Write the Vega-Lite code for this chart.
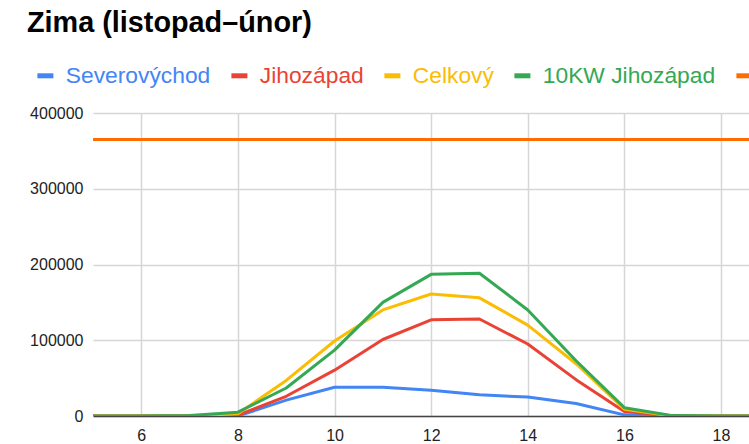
{
  "$schema": "https://vega.github.io/schema/vega-lite/v6.json",
  "autosize": {"type": "none"},
  "padding": {"left": 93, "top": 113, "right": 0, "bottom": 28},
  "width": 656,
  "height": 303,
  "title": {
    "text": "Zima (listopad–únor)",
    "anchor": "start",
    "frame": "group",
    "fontSize": 28.8,
    "fontWeight": "bold",
    "color": "#000000",
    "font": "Liberation Sans",
    "dx": -66,
    "offset": 26
  },
  "data": {
    "values": [
      {"hour": 5, "series": "Severovýchod", "value": 0},
      {"hour": 6, "series": "Severovýchod", "value": 0},
      {"hour": 7, "series": "Severovýchod", "value": 0},
      {"hour": 8, "series": "Severovýchod", "value": 0},
      {"hour": 9, "series": "Severovýchod", "value": 21000},
      {"hour": 10, "series": "Severovýchod", "value": 38000},
      {"hour": 11, "series": "Severovýchod", "value": 38000},
      {"hour": 12, "series": "Severovýchod", "value": 34000},
      {"hour": 13, "series": "Severovýchod", "value": 28000},
      {"hour": 14, "series": "Severovýchod", "value": 25000},
      {"hour": 15, "series": "Severovýchod", "value": 16500},
      {"hour": 16, "series": "Severovýchod", "value": 1500},
      {"hour": 17, "series": "Severovýchod", "value": 0},
      {"hour": 18, "series": "Severovýchod", "value": 0},
      {"hour": 19, "series": "Severovýchod", "value": 0},
      {"hour": 5, "series": "Jihozápad", "value": 0},
      {"hour": 6, "series": "Jihozápad", "value": 0},
      {"hour": 7, "series": "Jihozápad", "value": 0},
      {"hour": 8, "series": "Jihozápad", "value": 1000},
      {"hour": 9, "series": "Jihozápad", "value": 26000},
      {"hour": 10, "series": "Jihozápad", "value": 60500},
      {"hour": 11, "series": "Jihozápad", "value": 101000},
      {"hour": 12, "series": "Jihozápad", "value": 127000},
      {"hour": 13, "series": "Jihozápad", "value": 128000},
      {"hour": 14, "series": "Jihozápad", "value": 95000},
      {"hour": 15, "series": "Jihozápad", "value": 48000},
      {"hour": 16, "series": "Jihozápad", "value": 6000},
      {"hour": 17, "series": "Jihozápad", "value": 0},
      {"hour": 18, "series": "Jihozápad", "value": 0},
      {"hour": 19, "series": "Jihozápad", "value": 0},
      {"hour": 5, "series": "Celkový", "value": 0},
      {"hour": 6, "series": "Celkový", "value": 0},
      {"hour": 7, "series": "Celkový", "value": 0},
      {"hour": 8, "series": "Celkový", "value": 3000},
      {"hour": 9, "series": "Celkový", "value": 47000},
      {"hour": 10, "series": "Celkový", "value": 99000},
      {"hour": 11, "series": "Celkový", "value": 140000},
      {"hour": 12, "series": "Celkový", "value": 161000},
      {"hour": 13, "series": "Celkový", "value": 156000},
      {"hour": 14, "series": "Celkový", "value": 120000},
      {"hour": 15, "series": "Celkový", "value": 69000},
      {"hour": 16, "series": "Celkový", "value": 9000},
      {"hour": 17, "series": "Celkový", "value": 0},
      {"hour": 18, "series": "Celkový", "value": 0},
      {"hour": 19, "series": "Celkový", "value": 0},
      {"hour": 5, "series": "10KW Jihozápad", "value": 0},
      {"hour": 6, "series": "10KW Jihozápad", "value": 0},
      {"hour": 7, "series": "10KW Jihozápad", "value": 500},
      {"hour": 8, "series": "10KW Jihozápad", "value": 5000},
      {"hour": 9, "series": "10KW Jihozápad", "value": 37000},
      {"hour": 10, "series": "10KW Jihozápad", "value": 87000},
      {"hour": 11, "series": "10KW Jihozápad", "value": 150000},
      {"hour": 12, "series": "10KW Jihozápad", "value": 187000},
      {"hour": 13, "series": "10KW Jihozápad", "value": 188500},
      {"hour": 14, "series": "10KW Jihozápad", "value": 140000},
      {"hour": 15, "series": "10KW Jihozápad", "value": 73000},
      {"hour": 16, "series": "10KW Jihozápad", "value": 11000},
      {"hour": 17, "series": "10KW Jihozápad", "value": 500},
      {"hour": 18, "series": "10KW Jihozápad", "value": 0},
      {"hour": 19, "series": "10KW Jihozápad", "value": 0},
      {"hour": 5, "series": "Spotřeba", "value": 365000},
      {"hour": 6, "series": "Spotřeba", "value": 365000},
      {"hour": 7, "series": "Spotřeba", "value": 365000},
      {"hour": 8, "series": "Spotřeba", "value": 365000},
      {"hour": 9, "series": "Spotřeba", "value": 365000},
      {"hour": 10, "series": "Spotřeba", "value": 365000},
      {"hour": 11, "series": "Spotřeba", "value": 365000},
      {"hour": 12, "series": "Spotřeba", "value": 365000},
      {"hour": 13, "series": "Spotřeba", "value": 365000},
      {"hour": 14, "series": "Spotřeba", "value": 365000},
      {"hour": 15, "series": "Spotřeba", "value": 365000},
      {"hour": 16, "series": "Spotřeba", "value": 365000},
      {"hour": 17, "series": "Spotřeba", "value": 365000},
      {"hour": 18, "series": "Spotřeba", "value": 365000},
      {"hour": 19, "series": "Spotřeba", "value": 365000}
    ]
  },
  "mark": {"type": "line", "strokeWidth": 3, "clip": true, "strokeJoin": "round", "strokeCap": "butt"},
  "encoding": {
    "x": {
      "field": "hour",
      "type": "quantitative",
      "scale": {"domain": [5, 18.58], "nice": false, "zero": false},
      "axis": {
        "title": null,
        "values": [6, 8, 10, 12, 14, 16, 18],
        "grid": true,
        "gridColor": "#d6d6d6",
        "gridWidth": 1.5,
        "ticks": false,
        "domain": true,
        "domainColor": "#444444",
        "domainWidth": 1.5,
        "labelFontSize": 16,
        "labelColor": "#222222",
        "labelFont": "Liberation Sans",
        "labelPadding": 11
      }
    },
    "y": {
      "field": "value",
      "type": "quantitative",
      "scale": {"domain": [0, 400000], "nice": false},
      "axis": {
        "title": null,
        "values": [0, 100000, 200000, 300000, 400000],
        "format": "d",
        "grid": true,
        "gridColor": "#d6d6d6",
        "gridWidth": 1.5,
        "ticks": false,
        "domain": false,
        "labelFontSize": 16,
        "labelColor": "#222222",
        "labelFont": "Liberation Sans",
        "labelPadding": 10
      }
    },
    "color": {
      "field": "series",
      "type": "nominal",
      "scale": {
        "domain": ["Severovýchod", "Jihozápad", "Celkový", "10KW Jihozápad", "Spotřeba"],
        "range": ["#4285F4", "#EA4335", "#FBBC04", "#34A853", "#FF6D01"]
      },
      "legend": {
        "title": null,
        "orient": "none",
        "direction": "horizontal",
        "legendX": -59,
        "legendY": -49,
        "symbolType": "stroke",
        "symbolSize": 256,
        "symbolStrokeWidth": 5,
        "labelFontSize": 22.8,
        "labelFont": "Liberation Sans",
        "labelOffset": 9,
        "columnPadding": 10,
        "labelLimit": 400,
        "encode": {
          "labels": {"update": {"fill": {"scale": "color", "field": "value"}}}
        }
      }
    }
  },
  "config": {"view": {"stroke": null}}
}
